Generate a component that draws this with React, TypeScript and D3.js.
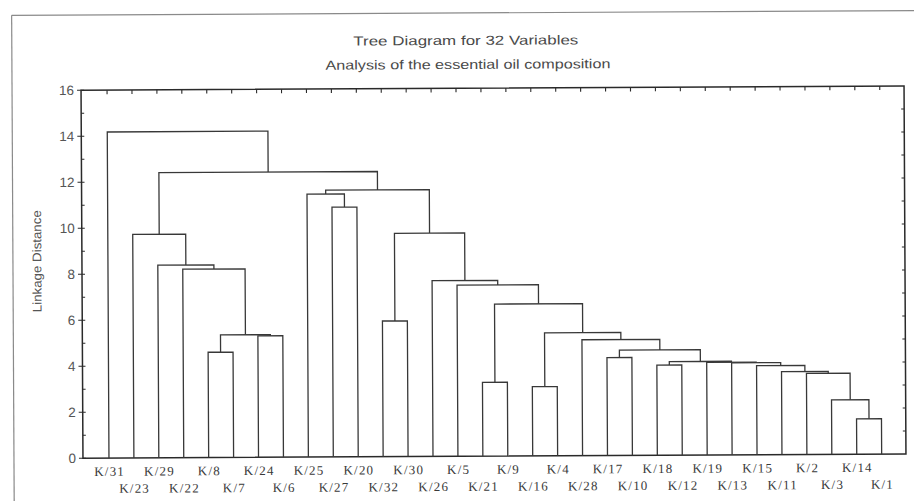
import React from "react";
import * as d3 from "d3";

const leafLabels = ["K/31","K/23","K/29","K/22","K/8","K/7","K/24","K/6","K/25","K/27","K/20","K/32","K/30","K/26","K/5","K/21","K/9","K/16","K/4","K/28","K/17","K/10","K/18","K/12","K/19","K/13","K/15","K/11","K/2","K/3","K/14","K/1"];
// linkage: cluster id = 32 + index
const mergeLeft = [30,29,28,27,26,25,24,22,39,20,41,19,17,44,15,46,14,13,11,50,9,8,53,4,6,55,3,2,1,60,0];
const mergeRight = [31,32,33,34,35,36,37,23,38,21,40,42,18,43,16,45,47,48,12,49,10,52,51,5,7,56,57,58,59,54,61];
const mergeHeight = [1.54,2.37,3.53,3.61,3.87,4.0,4.03,3.92,4.07,4.26,4.58,5.04,3.01,5.35,3.21,6.61,7.44,7.64,5.9,9.71,10.86,11.43,11.6,4.58,5.28,5.33,8.2,8.38,9.72,12.4,14.18];
const yTickValues = [0,2,4,6,8,10,12,14,16];
const yMinorValues = [1,3,5,7,9,11,13,15];
const titleText = "Tree Diagram for 32 Variables";
const subtitleText = "Analysis of the essential oil composition";
const yAxisTitle = "Linkage Distance";

export default function App() {
  const W = 914, H = 501;
  const left = 82, right = 905, top = 88.3, bottom = 456.3;
  const x = d3.scalePoint<string>().domain(leafLabels).range([108, 880.7]);
  const y = d3.scaleLinear().domain([0, 16]).range([bottom, top]);

  const n = leafLabels.length;
  const nodeX: number[] = leafLabels.map((l) => x(l) as number);
  const nodeH: number[] = leafLabels.map(() => 0);
  const paths: string[] = [];
  mergeLeft.forEach((a, i) => {
    const b = mergeRight[i];
    const h = mergeHeight[i];
    const xa = nodeX[a], xb = nodeX[b];
    const p = d3.path();
    p.moveTo(xa, y(nodeH[a]));
    p.lineTo(xa, y(h));
    p.lineTo(xb, y(h));
    p.lineTo(xb, y(nodeH[b]));
    paths.push(p.toString());
    nodeX[n + i] = (xa + xb) / 2;
    nodeH[n + i] = h;
  });

  const sans = "'Liberation Sans', Arial, sans-serif";
  const serif = "'Liberation Serif', 'Times New Roman', serif";
  const rightTicks = d3.range(1, 16);

  return (
    <svg width={W} height={H} style={{ position: "absolute", left: 0, top: 0, background: "#fff" }}>
      <g transform="rotate(-0.3 457 272)">
        {/* outer frame */}
        <line x1={13} y1={13} x2={920} y2={13} stroke="#8a8a8a" strokeWidth={1.2} />
        <line x1={13} y1={13} x2={13} y2={520} stroke="#8a8a8a" strokeWidth={1.2} />

        <text x={467} y={45} textAnchor="middle" fontFamily={sans} fontSize={13} fill="#4a4a4a" textLength={225} lengthAdjust="spacingAndGlyphs">{titleText}</text>
        <text x={469} y={69} textAnchor="middle" fontFamily={sans} fontSize={13} fill="#4a4a4a" textLength={285} lengthAdjust="spacingAndGlyphs">{subtitleText}</text>

        {/* plot frame */}
        <rect x={left} y={top} width={right - left} height={bottom - top} fill="none" stroke="#2a2a2a" strokeWidth={1.5} />

        {/* left axis ticks */}
        {yTickValues.map((v) => (
          <g key={"yt" + v}>
            <line x1={left - 4} x2={left + 3} y1={y(v)} y2={y(v)} stroke="#2a2a2a" strokeWidth={1.1} />
            <text x={75} y={y(v)} dy="0.35em" textAnchor="end" fontFamily={sans} fontSize={13.5} fill="#555">{v}</text>
          </g>
        ))}
        {yMinorValues.map((v) => (
          <line key={"ym" + v} x1={left} x2={left + 3} y1={y(v)} y2={y(v)} stroke="#2a2a2a" strokeWidth={1.1} />
        ))}
        {/* right axis ticks */}
        {rightTicks.map((v) => (
          <line key={"yr" + v} x1={right - 3} x2={right} y1={y(v)} y2={y(v)} stroke="#2a2a2a" strokeWidth={1.1} />
        ))}
        {/* top axis ticks */}
        {leafLabels.map((l) => (
          <line key={"xt" + l} x1={x(l)} x2={x(l)} y1={top} y2={top + 4} stroke="#2a2a2a" strokeWidth={1.1} />
        ))}

        <text transform={`translate(37,259) rotate(-90)`} textAnchor="middle" dy="0.35em" fontFamily={sans} fontSize={12.5} fill="#555" textLength={102} lengthAdjust="spacingAndGlyphs">{yAxisTitle}</text>

        {/* dendrogram */}
        {paths.map((d, i) => (
          <path key={"m" + i} d={d} fill="none" stroke="#383838" strokeWidth={1.3} />
        ))}

        {/* leaf labels */}
        {leafLabels.map((l, i) => (
          <text key={"lb" + l} x={(x(l) as number) + 0.6} y={i % 2 === 0 ? 474 : 491} textAnchor="middle" fontFamily={serif} fontSize={13} letterSpacing={1.2} fill="#3a3a3a">{l}</text>
        ))}
      </g>
    </svg>
  );
}
